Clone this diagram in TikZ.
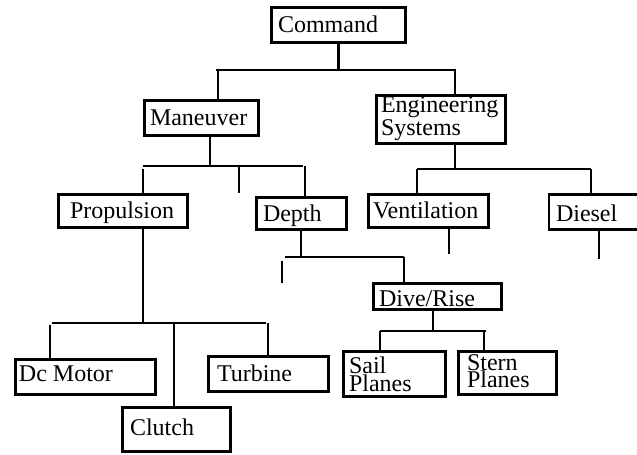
\documentclass[tikz,border=0pt]{standalone}
\usepackage{fontspec}
\setmainfont{Liberation Serif}
\begin{document}
\begin{tikzpicture}[x=1pt,y=-1pt,
  box/.style={draw,rectangle,line width=2.4pt,inner sep=0pt,outer sep=0pt},
  lbl/.style={inner sep=0pt,outer sep=0pt,anchor=base west,align=left,
    font=\fontsize{24}{20}\selectfont},
  link/.style={line width=2.6pt}]
\useasboundingbox (0,0) rectangle (637,455);
\begin{scope}
\clip (0,0) rectangle (637,455);
% boxes
\node[box,minimum width=134pt,minimum height=35pt] (cmd) at (338.5,25) {};
\node[box,minimum width=114pt,minimum height=35pt] (man) at (201.5,118) {};
\node[box,minimum width=129pt,minimum height=48pt] (eng) at (441,119.5) {};
\node[box,minimum width=129pt,minimum height=33pt] (prop) at (123,211) {};
\node[box,minimum width=90pt,minimum height=32pt] (dep) at (301.5,213.5) {};
\node[box,minimum width=120pt,minimum height=33pt] (vent) at (428.5,211) {};
\node[box,minimum width=130pt,minimum height=35pt] (dsl) at (614,212) {};
\node[box,minimum width=128pt,minimum height=26pt] (dive) at (437.5,296.5) {};
\node[box,minimum width=102pt,minimum height=45pt] (sail) at (394.5,374) {};
\node[box,minimum width=98pt,minimum height=43pt] (stern) at (507.5,373) {};
\node[box,minimum width=140pt,minimum height=35pt] (dc) at (85.5,377) {};
\node[box,minimum width=108pt,minimum height=44pt] (clu) at (176.5,429.5) {};
\node[box,minimum width=120pt,minimum height=35pt] (tur) at (268.5,374) {};
\end{scope}
% labels (two-line labels are placed by the baseline of their last line)
\node[lbl] (tcmd) at (278,32) {Command};
\node[lbl] (tman) at (150,125) {Maneuver};
\node[lbl] (teng) at (381,135) {Engineering\\Systems};
\node[lbl] (tprop) at (70,218) {Propulsion};
\node[lbl] (tdep) at (263,221) {Depth};
\node[lbl] (tvent) at (373,218) {Ventilation};
\node[lbl] (tdsl) at (556,221) {Diesel};
\node[lbl] (tdive) at (379,306) {Dive/Rise};
\node[lbl,font=\fontsize{24}{16.5}\selectfont] (tsail) at (349,391) {Sail\\Planes};
\node[lbl,font=\fontsize{24}{17}\selectfont] (tstern) at (467,387) {Stern\\Planes};
\node[lbl] (tdc) at (19,381) {Dc Motor};
\node[lbl] (tclu) at (130,435) {Clutch};
\node[lbl] (ttur) at (217,381) {Turbine};
% junction points
\coordinate (a1) at (216,70);  \coordinate (a2) at (456,70);
\coordinate (a3) at (218,70);  \coordinate (a4) at (455,70);
\coordinate (b0) at (210,0);
\coordinate (b1) at (143,166); \coordinate (b2) at (303,166);
\coordinate (b3) at (143,169); \coordinate (b4) at (239,166);
\coordinate (b5) at (305,166); \coordinate (b6) at (239,193);
\coordinate (c0) at (143,0);
\coordinate (c1) at (52,323);  \coordinate (c2) at (266,323);
\coordinate (c3) at (50,325);  \coordinate (c4) at (174,323);
\coordinate (c5) at (268,323);
\coordinate (d0) at (301,0);
\coordinate (d1) at (285,257); \coordinate (d2) at (404,257);
\coordinate (d3) at (282,261); \coordinate (d4) at (282,283);
\coordinate (e0) at (455,0);
\coordinate (e1) at (417,169); \coordinate (e2) at (591,169);
\coordinate (v0) at (449,0);   \coordinate (v1) at (449,254);
\coordinate (s0) at (599,0);   \coordinate (s1) at (599,259);
\coordinate (f0) at (433,0);
\coordinate (f1) at (380,331); \coordinate (f2) at (486,331);
\coordinate (f3) at (484,331);
% Command branch
\draw[link] (cmd.south) -- (cmd.south |- a1);
\draw[link] (a1) -- (a2);
\draw[link] (a3) -- (a3 |- man.north);
\draw[link] (a4) -- (a4 |- eng.north);
% Maneuver branch
\draw[link] (b0 |- man.south) -- (b0 |- b1);
\draw[link] (b1) -- (b2);
\draw[link] (b3) -- (b3 |- prop.north);
\draw[link] (b4) -- (b6);
\draw[link] (b5) -- (b5 |- dep.north);
% Propulsion branch
\draw[link] (c0 |- prop.south) -- (c0 |- c1);
\draw[link] (c1) -- (c2);
\draw[link] (c3) -- (c3 |- dc.north);
\draw[link] (c4) -- (c4 |- clu.north);
\draw[link] (c5) -- (c5 |- tur.north);
% Depth branch
\draw[link] (d0 |- dep.south) -- (d0 |- d1);
\draw[link] (d1) -- (d2);
\draw[link] (d3) -- (d4);
\draw[link] (d2) -- (d2 |- dive.north);
% Engineering Systems branch
\draw[link] (e0 |- eng.south) -- (e0 |- e1);
\draw[link] (e1) -- (e2);
\draw[link] (e1) -- (e1 |- vent.north);
\draw[link] (e2) -- (e2 |- dsl.north);
\draw[link] (v0 |- vent.south) -- (v1);
\draw[link] (s0 |- dsl.south) -- (s1);
% Dive/Rise branch
\draw[link] (f0 |- dive.south) -- (f0 |- f1);
\draw[link] (f1) -- (f2);
\draw[link] (f1) -- (f1 |- sail.north);
\draw[link] (f3) -- (f3 |- stern.north);
\end{tikzpicture}
\end{document}
